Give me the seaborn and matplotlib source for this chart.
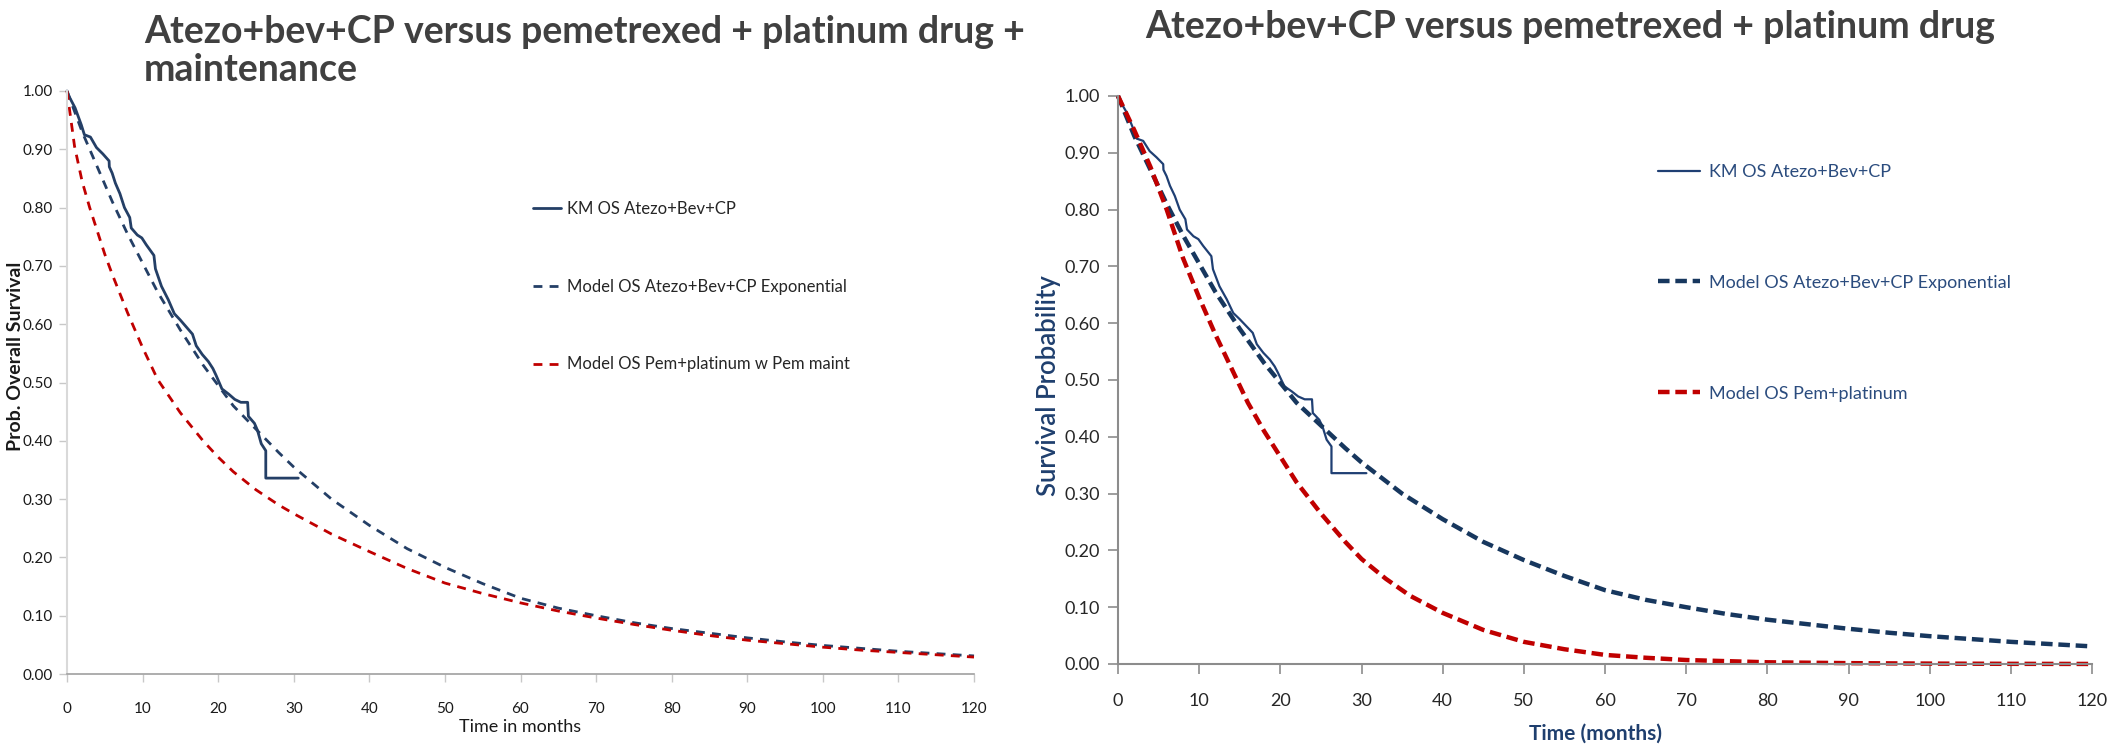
import matplotlib
matplotlib.use("Agg")
import matplotlib.pyplot as plt
import seaborn as sns
import pandas as pd
from matplotlib.ticker import FormatStrFormatter

# ---------------- data ----------------
km_time = [0, 0.3, 1.07, 1.89, 2.3, 3.1, 3.5, 3.9, 4.75, 5.57, 5.6, 5.98, 6.4, 7.0, 7.6,
           8.3, 8.5, 9.3, 9.9, 10.5, 11.5, 11.7, 12.5, 13.4, 14.2, 15.0, 15.6, 16.2, 16.6,
           17.1, 17.9, 18.7, 19.3, 19.7, 20.1, 20.5, 21.4, 22.2, 23.0, 23.9, 24.0, 24.8,
           25.2, 25.7, 26.3, 26.3, 30.6]
km_surv = [1.0, 0.99, 0.971, 0.942, 0.925, 0.921, 0.912, 0.903, 0.892, 0.880, 0.870, 0.859,
           0.842, 0.824, 0.800, 0.783, 0.765, 0.753, 0.748, 0.736, 0.718, 0.695, 0.665, 0.642,
           0.618, 0.607, 0.598, 0.589, 0.583, 0.563, 0.548, 0.536, 0.524, 0.513, 0.501, 0.489,
           0.480, 0.471, 0.466, 0.466, 0.442, 0.430, 0.418, 0.395, 0.383, 0.336, 0.336]

atezo_time = [0, 2, 4, 6, 8, 10, 12, 15, 18, 20, 22, 25, 28, 30, 35, 40, 45, 50, 55, 60,
              65, 70, 75, 80, 85, 90, 95, 100, 105, 110, 115, 120]
atezo_surv = [1.0, 0.93, 0.87, 0.81, 0.755, 0.705, 0.655, 0.59, 0.53, 0.495, 0.46, 0.42,
              0.38, 0.355, 0.30, 0.255, 0.215, 0.183, 0.155, 0.13, 0.113, 0.10, 0.088,
              0.078, 0.07, 0.062, 0.055, 0.049, 0.044, 0.039, 0.035, 0.031]

pem_maint_time = [0, 1, 2, 3, 4, 5, 6, 8, 10, 12, 15, 18, 20, 22, 25, 28, 30, 35, 40, 45,
                  50, 55, 60, 65, 70, 75, 80, 85, 90, 95, 100, 105, 110, 115, 120]
pem_maint_surv = [1.0, 0.905, 0.845, 0.80, 0.76, 0.72, 0.685, 0.62, 0.56, 0.505, 0.448,
                  0.400, 0.372, 0.347, 0.316, 0.290, 0.275, 0.240, 0.210, 0.181, 0.156,
                  0.138, 0.122, 0.108, 0.096, 0.085, 0.075, 0.066, 0.058, 0.052, 0.046,
                  0.041, 0.037, 0.033, 0.029]

pem_time = [0, 2, 4, 6, 8, 10, 12, 14, 16, 18, 20, 22, 25, 28, 30, 33, 36, 40, 45, 50, 55,
            60, 65, 70, 75, 80, 90, 100, 110, 120]
pem_surv = [1.0, 0.94, 0.875, 0.80, 0.715, 0.645, 0.58, 0.52, 0.46, 0.41, 0.365, 0.32,
            0.265, 0.215, 0.185, 0.15, 0.12, 0.09, 0.06, 0.039, 0.026, 0.016, 0.011, 0.007,
            0.005, 0.003, 0.0015, 0.0007, 0.0003, 0.0001]

x_ticks = list(range(0, 121, 10))
y_ticks = [i / 10 for i in range(11)]

left_title = "Atezo+bev+CP versus pemetrexed + platinum drug +\nmaintenance"
right_title = "Atezo+bev+CP versus pemetrexed + platinum drug"
left_labels = ["KM OS Atezo+Bev+CP", "Model OS Atezo+Bev+CP Exponential",
               "Model OS Pem+platinum w Pem maint"]
right_labels = ["KM OS Atezo+Bev+CP", "Model OS Atezo+Bev+CP Exponential",
                "Model OS Pem+platinum"]

# ---------------- style ----------------
sns.set_theme(style="white")
plt.rcParams["font.family"] = ["Lato", "DejaVu Sans"]

RED = "#C00000"
W, H = 2109, 745
fig = plt.figure(figsize=(W / 100, H / 100), dpi=100)


def box(l, t, r, b):
    return [l / W, 1 - b / H, (r - l) / W, (b - t) / H]


axL = fig.add_axes(box(67, 91, 974, 674))
axR = fig.add_axes(box(1118, 96, 2092, 664))

km = pd.DataFrame({"t": km_time, "s": km_surv})
at = pd.DataFrame({"t": atezo_time, "s": atezo_surv})
pm = pd.DataFrame({"t": pem_maint_time, "s": pem_maint_surv})
pp = pd.DataFrame({"t": pem_time, "s": pem_surv})

# ---- left panel ----
sns.lineplot(data=km, x="t", y="s", ax=axL, color="#243F66", lw=2.0, sort=False,
             estimator=None, label=left_labels[0])
sns.lineplot(data=at, x="t", y="s", ax=axL, color="#243F66", lw=2.0, sort=False,
             estimator=None, linestyle=(0, (3.2, 2.6)), label=left_labels[1])
sns.lineplot(data=pm, x="t", y="s", ax=axL, color=RED, lw=2.0, sort=False,
             estimator=None, linestyle=(0, (3.2, 2.6)), label=left_labels[2])

# ---- right panel ----
sns.lineplot(data=km, x="t", y="s", ax=axR, color="#1F3F73", lw=1.6, sort=False,
             estimator=None, label=right_labels[0])
sns.lineplot(data=at, x="t", y="s", ax=axR, color="#17375E", lw=3.2, sort=False,
             estimator=None, linestyle=(0, (2.6, 1.3)), label=right_labels[1])
sns.lineplot(data=pp, x="t", y="s", ax=axR, color=RED, lw=3.2, sort=False,
             estimator=None, linestyle=(0, (2.6, 1.3)), label=right_labels[2])

for ax in (axL, axR):
    ax.set_xlim(0, 120)
    ax.set_ylim(0, 1.0)
    ax.set_xticks(x_ticks)
    ax.set_yticks(y_ticks)
    ax.yaxis.set_major_formatter(FormatStrFormatter("%.2f"))
    ax.spines["top"].set_visible(False)
    ax.spines["right"].set_visible(False)
    ax.set_facecolor("none")
    ax.grid(False)
    for l in ax.get_lines():
        l.set_clip_on(False)

# left styling
axL.spines["left"].set_color("#D9D9D9")
axL.spines["left"].set_linewidth(1.5)
axL.spines["bottom"].set_color("#A0A0A0")
axL.spines["bottom"].set_linewidth(1.2)
axL.tick_params(axis="both", which="major", direction="out", length=6, width=1,
                color="#C8C8C8", labelsize=11, labelcolor="#1A1A1A", pad=4,
                bottom=True, left=True)
axL.tick_params(axis="x", pad=14)
axL.set_xlabel("Time in months", fontsize=13, color="#1A1A1A", labelpad=2)
axL.set_ylabel("Prob. Overall Survival", fontsize=14, fontweight="bold", color="#1A1A1A")
axL.yaxis.set_label_coords(-0.047, 0.545)

legL = axL.legend(loc="upper left", bbox_to_anchor=(533 / W, 1 - 201 / H),
                  bbox_transform=fig.transFigure, frameon=False, fontsize=12,
                  handlelength=1.7, handletextpad=0.35, labelspacing=3.7,
                  borderaxespad=0, borderpad=0)
for t in legL.get_texts():
    t.set_color("#262626")

# right styling
for s in ("left", "bottom"):
    axR.spines[s].set_color("#8C8C8C")
    axR.spines[s].set_linewidth(1.5)
axR.tick_params(axis="both", which="major", direction="out", length=7, width=1.2,
                color="#8C8C8C", labelsize=13, labelcolor="#262626", pad=6,
                bottom=True, left=True)
axR.tick_params(axis="x", pad=14)
axR.set_xlabel("Time (months)", fontsize=15, fontweight="bold", color="#1F3F6E",
               labelpad=8)
axR.xaxis.set_label_coords(0.49, -0.105)
axR.set_ylabel("Survival Probability", fontsize=18.5, fontweight="semibold",
               color="#1F3F6E")
axR.yaxis.set_label_coords(-(1118 - 1061) / (2092 - 1118), 0.49)

legR = axR.legend(loc="upper left", bbox_to_anchor=(1658 / W, 1 - 164 / H),
                  bbox_transform=fig.transFigure, frameon=False, fontsize=13,
                  handlelength=2.3, handletextpad=0.55, labelspacing=5.25,
                  borderaxespad=0, borderpad=0)
for t in legR.get_texts():
    t.set_color("#2B4C7E")

# titles
fig.text(144 / W, 1 - 51 / H, left_title, ha="left", va="center", fontsize=27,
         fontweight="bold", color="#404040", linespacing=1.17)
fig.text(1570 / W, 1 - 27 / H, right_title, ha="center", va="center", fontsize=27,
         fontweight="bold", color="#404040")

fig.savefig("out.png", dpi=100, facecolor="white")
